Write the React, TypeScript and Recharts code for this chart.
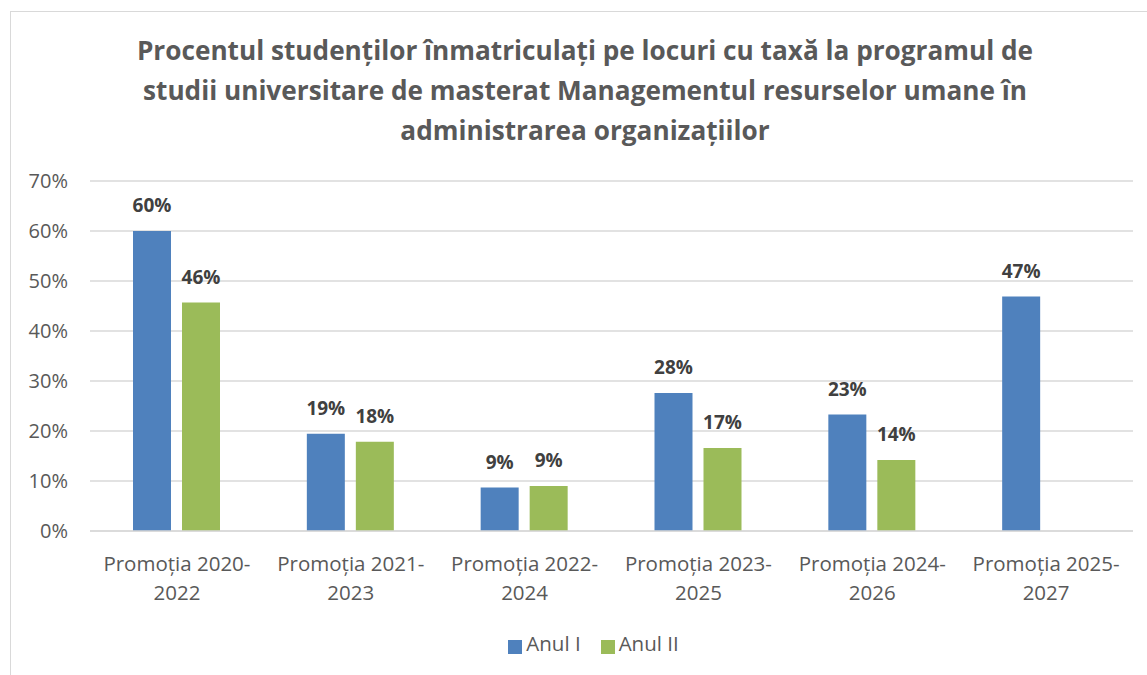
import React from "react";
import {
  Bar,
  BarChart,
  CartesianGrid,
  LabelList,
  Legend,
  XAxis,
  YAxis,
} from "recharts";

const categories = [
  "Promoția 2020-2022",
  "Promoția 2021-2023",
  "Promoția 2022-2024",
  "Promoția 2023-2025",
  "Promoția 2024-2026",
  "Promoția 2025-2027",
];
const anulI = [60, 19.45, 8.7, 27.6, 23.3, 46.9];
const anulII: (number | null)[] = [45.7, 17.85, 9.0, 16.6, 14.2, null];
const yTicks = [0, 10, 20, 30, 40, 50, 60, 70];
const titleLines = [
  "Procentul studenților înmatriculați pe locuri cu taxă la programul de",
  "studii universitare de masterat Managementul resurselor umane în",
  "administrarea organizațiilor",
];

const data = categories.map((name, i) => ({
  name,
  anulI: anulI[i],
  anulII: anulII[i],
}));

const fontFamily = "'Open Sans', sans-serif";
const tickColor = "#595959";
const labelColor = "#404040";
const gridColor = "#d9d9d9";
const blue = "#4f81bd";
const green = "#9bbb59";

const CategoryTick = (props: any) => {
  const { x, y, payload } = props;
  const text: string = payload.value;
  const cut = text.indexOf("-") + 1;
  const lines = [text.slice(0, cut), text.slice(cut)];
  return (
    <text
      x={x}
      y={y}
      textAnchor="middle"
      fill={tickColor}
      fontFamily={fontFamily}
      fontSize={20.5}
    >
      {lines.map((l, i) => (
        <tspan key={i} x={x} dy={i === 0 ? 32 : 29}>
          {l}
        </tspan>
      ))}
    </text>
  );
};

const pct = (v: any) => (v == null ? "" : `${Math.round(v)}%`);

export default function App() {
  return (
    <div
      style={{
        position: "absolute",
        left: 0,
        top: 0,
        width: 1147,
        height: 675,
        background: "#fff",
        overflow: "hidden",
        fontFamily,
      }}
    >
      <div
        style={{
          position: "absolute",
          left: 10,
          top: 11,
          width: 1160,
          height: 700,
          border: "1px solid #d9d9d9",
        }}
      />
      <div
        style={{
          position: "absolute",
          left: 10,
          top: 30,
          width: 1150,
          textAlign: "center",
          fontWeight: 700,
          fontSize: 26.2,
          lineHeight: "40px",
          color: tickColor,
        }}
      >
        {titleLines.map((l, i) => (
          <div key={i}>{l}</div>
        ))}
      </div>
      <div style={{ position: "absolute", left: 0, top: 0 }}>
        <BarChart
          width={1147}
          height={675}
          data={data}
          margin={{ top: 181, right: 14, bottom: 18, left: 0 }}
          barCategoryGap="25%"
          barGap={11}
        >
          <CartesianGrid vertical={false} stroke={gridColor} strokeWidth={1.5} />
          <XAxis
            dataKey="name"
            tick={<CategoryTick />}
            tickLine={false}
            axisLine={{ stroke: gridColor, strokeWidth: 1.5 }}
            height={98}
            interval={0}
          />
          <YAxis
            domain={[0, 70]}
            ticks={yTicks}
            tickFormatter={(v: number) => `${v}%`}
            axisLine={false}
            tickLine={false}
            tickSize={0}
            tickMargin={22}
            width={90}
            tick={{ fill: tickColor, fontFamily, fontSize: 20 }}
          />
          <Legend
            verticalAlign="bottom"
            align="center"
            iconType="square"
            iconSize={14}
            wrapperStyle={{ left: 32 }}
            formatter={(value: string, _e: any, i: number) => (
              <span
                style={{
                  color: tickColor,
                  fontSize: 20.5,
                  fontFamily,
                  marginRight: i === 0 ? 10 : 0,
                }}
              >
                {value}
              </span>
            )}
          />
          <Bar
            dataKey="anulI"
            name="Anul I"
            fill={blue}
            barSize={38}
            isAnimationActive={false}
          >
            <LabelList
              dataKey="anulI"
              position="top"
              offset={19}
              formatter={pct}
              fill={labelColor}
              fontWeight={700}
              fontSize={19}
              fontFamily={fontFamily}
            />
          </Bar>
          <Bar
            dataKey="anulII"
            name="Anul II"
            fill={green}
            barSize={38}
            isAnimationActive={false}
          >
            <LabelList
              dataKey="anulII"
              position="top"
              offset={19}
              formatter={pct}
              fill={labelColor}
              fontWeight={700}
              fontSize={19}
              fontFamily={fontFamily}
            />
          </Bar>
        </BarChart>
      </div>
    </div>
  );
}
